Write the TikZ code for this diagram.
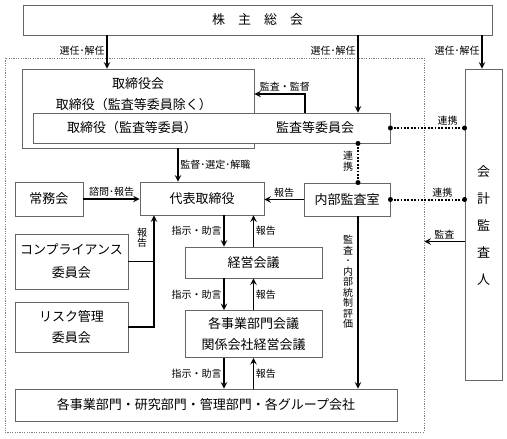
\documentclass[tikz,border=0pt]{standalone}
\usepackage{fontspec}
\setmainfont{Noto Sans CJK JP}
\usetikzlibrary{positioning}

\tikzset{
    box/.style={draw=black!60, line width=0.9pt, fill=white, inner sep=0pt, align=center, font=\fontsize{13}{21}\selectfont},
    txt/.style={inner sep=0pt, font=\fontsize{13}{21}\selectfont},
    lbl/.style={inner sep=1.5pt, font=\fontsize{10}{11}\selectfont},
    vlbl/.style={inner sep=0pt, align=center, font=\fontsize{10}{10.5}\selectfont},
    arr/.style={->, >=stealth, line width=1.8pt},
    dotline/.style={line width=2pt, dash pattern=on 1.8pt off 1.6pt},
}

\begin{document}
\begin{tikzpicture}[x=1pt, y=-1pt]
    \useasboundingbox (0,0) rectangle (507,439);

    % Nodes
    \node[box, minimum width=469pt, minimum height=30pt] (gm) at (257.5,20) {株　主　総　会};
    \node[draw=black!50, line width=0.8pt, dash pattern=on 1.2pt off 1.2pt, minimum width=419pt, minimum height=374pt] (grp) at (214.5,245) {};
    \node[box, minimum width=232pt, minimum height=79pt] (board) at (138,108.5) {};
    \node[txt] (board_t) at (138,84) {取締役会};
    \node[txt] (board_d) at (134,105) {取締役（監査等委員除く）};
    \node[box, minimum width=357pt, minimum height=30pt] (ac) at (211.5,128) {};
    \node[txt] (ac_d) at (132,128) {取締役（監査等委員）};
    \node[txt] (ac_t) at (315,128) {監査等委員会};
    \node[box, minimum width=37pt, minimum height=311pt] (cpa) at (483.5,224.5) {};
    \node[txt, align=center, font=\fontsize{13}{27}\selectfont] (cpa_t) at (483.5,226) {会\\計\\監\\査\\人};
    \node[box, minimum width=68pt, minimum height=34pt] (joumu) at (49,199) {常務会};
    \node[box, minimum width=124pt, minimum height=33pt] (ceo) at (202,198.5) {代表取締役};
    \node[box, minimum width=86pt, minimum height=33pt] (iad) at (347,199.5) {内部監査室};
    \node[box, minimum width=113pt, minimum height=55pt, font=\fontsize{13}{23}\selectfont] (comp) at (71.5,261.5) {コンプライアンス\\委員会};
    \node[box, minimum width=113pt, minimum height=50pt] (risk) at (71.5,327) {リスク管理\\委員会};
    \node[box, minimum width=137pt, minimum height=31pt] (mgmt) at (253.5,262.5) {経営会議};
    \node[box, minimum width=137pt, minimum height=47pt] (div) at (253.5,334) {各事業部門会議\\関係会社経営会議};
    \node[box, minimum width=382pt, minimum height=32pt] (ops) at (206,405) {各事業部門・研究部門・管理部門・各グループ会社};

    % Arrows
    \draw[arr] ([xshift=-31pt]board.north |- gm.south) -- node[lbl, left, pos=0.45] {選任･解任} ([xshift=-31pt]board.north);
    \draw[arr] ([xshift=146.5pt]ac.north |- gm.south) -- node[lbl, left, pos=0.2] {選任･解任} ([xshift=146.5pt]ac.north);
    \draw[arr] ([xshift=-1.5pt]cpa.north |- gm.south) -- node[lbl, left, pos=0.45] {選任･解任} ([xshift=-1.5pt]cpa.north);
    \draw[arr] ([xshift=93.5pt]ac.north) |- node[lbl, above, pos=0.7] {監査・監督} ([yshift=14.5pt]board.east);
    \draw[arr] ([xshift=40pt]board.south) -- node[lbl, right] {監督･選定･解職} ([xshift=40pt]board.south |- ceo.north);
    \draw[arr] (joumu.east) -- node[lbl, above] {諮問･報告} (joumu.east -| ceo.west);
    \draw[line width=1.8pt] (comp.east) -- ([xshift=-48pt]ceo.south |- comp.east);
    \draw[arr] (risk.east) -| node[vlbl, left=6pt, pos=0.9] {報\\告} ([xshift=-48pt]ceo.south);
    \draw[arr] (iad.west) -- node[lbl, above] {報告} (iad.west -| ceo.east);

    \draw[arr] ([xshift=22pt]ceo.south) -- node[lbl, left] {指示・助言} ([xshift=22pt]ceo.south |- mgmt.north);
    \draw[arr] (mgmt.north) -- node[lbl, right] {報告} (mgmt.north |- ceo.south);
    \draw[arr] ([xshift=-29.5pt]mgmt.south) -- node[lbl, left] {指示・助言} ([xshift=-29.5pt]mgmt.south |- div.north);
    \draw[arr] (div.north) -- node[lbl, right] {報告} (div.north |- mgmt.south);
    \draw[arr] ([xshift=-29.5pt]div.south) -- node[lbl, left] {指示・助言} ([xshift=-29.5pt]div.south |- ops.north);
    \draw[arr] (div.south |- ops.north) -- node[lbl, right] {報告} (div.south);

    \draw[arr] ([xshift=11pt]iad.south) -- node[vlbl, left=4pt, pos=0.38] {監\\査\\･\\内\\部\\統\\制\\評\\価} ([xshift=11pt]iad.south |- ops.north);
    \draw[arr] ([yshift=-17pt]cpa.west) -- node[lbl, above] {監査} ([yshift=-17pt]cpa.west -| grp.east);

    % Links
    \draw[dotline] (ac.east) -- node[lbl, above, pos=0.77] {連携} (ac.east -| cpa.west);
    \fill (ac.east) circle (2.5pt) (ac.east -| cpa.west) circle (2.5pt);
    \draw[dotline] ([xshift=11pt]iad.north |- ac.south) -- node[vlbl, left=4pt, pos=0.45] {連\\携} ([xshift=11pt]iad.north);
    \fill ([xshift=11pt]iad.north |- ac.south) circle (2.5pt) ([xshift=11pt]iad.north) circle (2.5pt);
    \draw[dotline] (iad.east) -- node[lbl, above, pos=0.7] {連携} (iad.east -| cpa.west);
    \fill (iad.east) circle (2.5pt) (iad.east -| cpa.west) circle (2.5pt);
\end{tikzpicture}
\end{document}
